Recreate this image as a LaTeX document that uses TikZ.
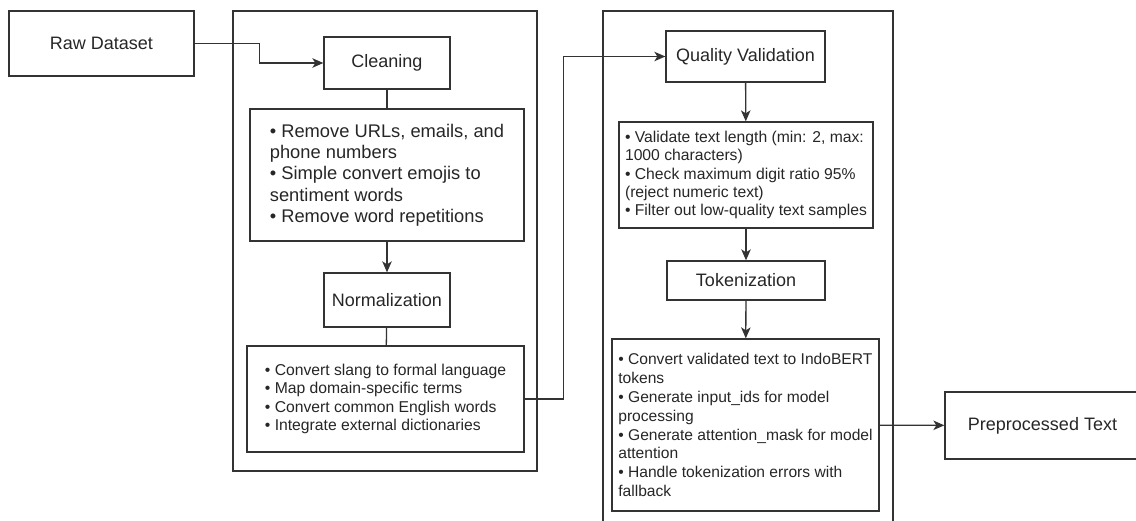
\documentclass[tikz,border=0pt]{standalone}
\usepackage{fontspec}
\setmainfont{Liberation Sans}
\usetikzlibrary{arrows.meta}

\begin{document}
\begin{tikzpicture}[
    x=1pt, y=-1pt,
    >={Stealth[length=11pt, width=9.5pt, inset=3pt]},
    line_col/.style={draw=black!80, line width=1.3pt},
    stage_box/.style n args={2}{line_col, minimum width=#1, minimum height=#2, inner sep=0pt, text=black!85, font=\fontsize{18}{21}\selectfont},
    list_box/.style n args={2}{line_col, minimum width=#1, minimum height=#2, inner sep=0pt, align=left, text=black!85, font=\fontsize{15.7}{18.4}\selectfont},
    flow/.style={line_col, ->},
    link/.style={line_col}
]
    \clip (0,0) rectangle (1136,521);
    % frames of the two groups
    \draw[line_col] (233,11) rectangle (537,471);
    \draw[line_col] (603,11) rectangle (893,540);

    \node[stage_box={185pt}{65pt}] (raw) at (101.5,43.5) {Raw Dataset};

    % first group
    \node[stage_box={126pt}{52pt}] (clean) at (387,63) {Cleaning};
    \node[list_box={274pt}{132pt}, font=\fontsize{18.3}{21.3}\selectfont] (cleanlist) at (387,175)
        {• Remove URLs, emails, and\\phone numbers\\• Simple convert emojis to\\sentiment words\\• Remove word repetitions};
    \node[stage_box={126pt}{54pt}] (norm) at (387,300) {Normalization};
    \node[list_box={277pt}{106pt}] (normlist) at (385.5,399)
        {• Convert slang to formal language\\• Map domain-specific terms\\• Convert common English words\\• Integrate external dictionaries};

    % second group
    \node[stage_box={159pt}{51pt}] (qv) at (745.5,56.5) {Quality Validation};
    \node[list_box={254pt}{106pt}] (qvlist) at (746,175)
        {• Validate text length (min: 2, max:\\1000 characters)\\• Check maximum digit ratio 95\%\\(reject numeric text)\\• Filter out low-quality text samples};
    \node[stage_box={158pt}{39pt}] (tok) at (746,280.5) {Tokenization};
    \node[list_box={267pt}{172pt}, font=\fontsize{15.6}{18.9}\selectfont] (toklist) at (745.5,425)
        {• Convert validated text to IndoBERT\\tokens\\• Generate input\_ids for model\\processing\\• Generate attention\_mask for model\\attention\\• Handle tokenization errors with\\fallback};

    \node[stage_box={195pt}{67pt}] (pre) at (1042.5,425.5) {Preprocessed Text};

    % connectors
    \draw[flow] (raw.east) -- ++(65,0) |- (clean.west);
    \draw[link] (clean) -- (cleanlist);
    \draw[flow] (cleanlist) -- (norm);
    \draw[link] (norm) -- (normlist);
    \draw[flow] (normlist.east) -- ++(39,0) |- (qv.west);
    \draw[flow] (qv) -- (qvlist);
    \draw[flow] (qvlist) -- (tok);
    \draw[flow] (tok) -- (toklist);
    \draw[flow] (toklist) -- (pre);
\end{tikzpicture}
\end{document}
